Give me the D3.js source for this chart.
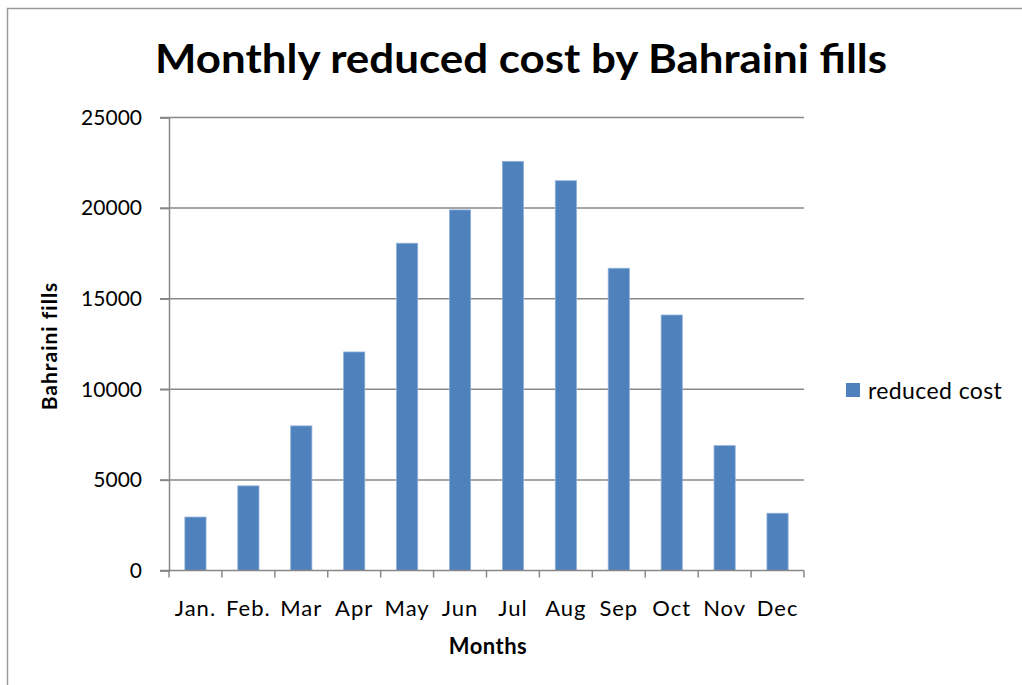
<!DOCTYPE html>
<html>
<head>
<meta charset="utf-8">
<script src="https://cdn.jsdelivr.net/npm/d3@7"></script>
<style>
  html, body { margin: 0; padding: 0; background: #fff; }
  svg { display: block; }
  text { font-family: Lato, "Open Sans", sans-serif; fill: #000; }
</style>
</head>
<body>
<svg id="chart" width="1022" height="685"></svg>
<script>
const months = ["Jan.", "Feb.", "Mar", "Apr", "May", "Jun", "Jul", "Aug", "Sep", "Oct", "Nov", "Dec"];
const reducedCost = [2950, 4670, 7980, 12060, 18060, 19900, 22580, 21510, 16680, 14100, 6890, 3160];
const yTicks = [0, 5000, 10000, 15000, 20000, 25000];
const seriesName = "reduced cost";
const titleText = "Monthly reduced cost by Bahraini fills";
const xTitle = "Months";
const yTitle = "Bahraini fills";

const svg = d3.select("#chart");
const W = 1022, H = 685;
const plot = { left: 169, right: 804, top: 117.5, bottom: 570.5 };
const axisColor = "#888888";
const barColor = "#4F81BD";

// outer frame
svg.append("rect")
  .attr("x", 7.5).attr("y", 8.5)
  .attr("width", W + 20).attr("height", H + 20)
  .attr("fill", "none").attr("stroke", "#9a9a9a").attr("stroke-width", 1.5);

const x = d3.scaleBand().domain(months).range([plot.left, plot.right])
  .paddingInner(0.6).paddingOuter(0.3);
const y = d3.scaleLinear().domain([0, 25000]).range([plot.bottom, plot.top]);
const step = x.step();

// gridlines
svg.append("g").selectAll("line").data(yTicks.filter(d => d > 0)).join("line")
  .attr("x1", plot.left - 9).attr("x2", plot.right)
  .attr("y1", d => y(d)).attr("y2", d => y(d))
  .attr("stroke", axisColor).attr("stroke-width", 1.5);

// bars
svg.append("g").selectAll("rect").data(reducedCost).join("rect")
  .attr("x", (d, i) => x(months[i]))
  .attr("width", x.bandwidth())
  .attr("y", d => y(d))
  .attr("height", d => y(0) - y(d))
  .attr("fill", barColor)
  .attr("stroke", "#8fb0d8").attr("stroke-width", 0.8);

// y axis
const yAxis = d3.axisLeft(y).tickValues(yTicks).tickSize(9).tickPadding(18).tickFormat(d3.format("d"));
const gy = svg.append("g").attr("transform", `translate(${plot.left},0)`).call(yAxis);
gy.select(".domain").attr("stroke", axisColor).attr("stroke-width", 1.5);
gy.selectAll(".tick line").attr("stroke", axisColor).attr("stroke-width", 1.5);
gy.selectAll(".tick text").attr("font-size", 21).attr("font-family", "Lato, sans-serif").attr("fill", "#000");

// x axis baseline
svg.append("line")
  .attr("x1", plot.left - 9).attr("x2", plot.right)
  .attr("y1", y(0)).attr("y2", y(0))
  .attr("stroke", axisColor).attr("stroke-width", 1.5);
// x ticks at band boundaries
const boundaries = months.map(m => x(m) - step * 0.3).concat([plot.right]);
svg.append("g").selectAll("line").data(boundaries).join("line")
  .attr("x1", d => d).attr("x2", d => d)
  .attr("y1", y(0)).attr("y2", y(0) + 7)
  .attr("stroke", axisColor).attr("stroke-width", 1.5);
// x labels
svg.append("g").selectAll("text").data(months).join("text")
  .attr("x", d => x(d) + x.bandwidth() / 2)
  .attr("y", 616)
  .attr("text-anchor", "middle")
  .attr("font-size", 22).attr("letter-spacing", 1)
  .text(d => d);

// title
svg.append("text")
  .attr("x", 521).attr("y", 73)
  .attr("text-anchor", "middle")
  .attr("font-size", 41).attr("font-weight", "bold")
  .attr("textLength", 732).attr("lengthAdjust", "spacingAndGlyphs")
  .text(titleText);

// axis titles
svg.append("text")
  .attr("x", 488).attr("y", 654)
  .attr("text-anchor", "middle")
  .attr("font-size", 22).attr("font-weight", "bold").attr("letter-spacing", 0.5)
  .text(xTitle);
svg.append("text")
  .attr("transform", "translate(57,346) rotate(-90)")
  .attr("text-anchor", "middle")
  .attr("font-size", 21).attr("font-weight", "bold").attr("letter-spacing", 1)
  .text(yTitle);

// legend
const lg = svg.append("g");
lg.append("rect").attr("x", 846).attr("y", 383).attr("width", 14).attr("height", 14).attr("fill", barColor);
lg.append("text").attr("x", 868).attr("y", 399).attr("font-size", 23).attr("letter-spacing", 0.4).text(seriesName);
</script>
</body>
</html>
